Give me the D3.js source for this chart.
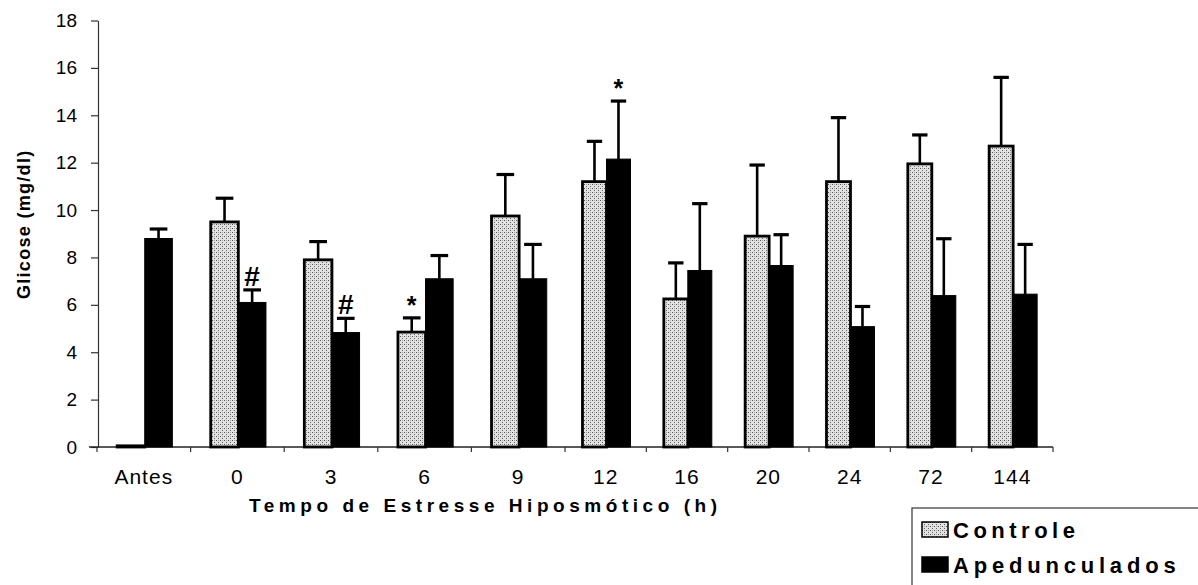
<!doctype html>
<html>
  <head>
    <script src="https://d3js.org/d3.v7.min.js" charset="utf-8"></script>
    <style>
      body { margin: 0; background: #fff; }
      text { font-family: "Liberation Sans", Arial, sans-serif; fill: #000; }
    </style>
  </head>
  <body>
    <script>

// data
var categories = ["Antes", "0", "3", "6", "9", "12", "16", "20", "24", "72", "144"];
var controle = [0.05, 9.5, 7.9, 4.85, 9.75, 11.2, 6.25, 8.9, 11.2, 11.95, 12.7];
var controleErr = [0, 1.0, 0.77, 0.6, 1.75, 1.7, 1.52, 3.0, 2.7, 1.22, 2.9];
var apedunc = [8.8, 6.1, 4.83, 7.1, 7.1, 12.15, 7.45, 7.66, 5.08, 6.39, 6.45];
var apeduncErr = [0.4, 0.53, 0.6, 0.98, 1.45, 2.45, 2.82, 1.3, 0.85, 2.4, 2.1];
var controleMarks = ["", "", "", "*", "", "", "", "", "", "", ""];
var apeduncMarks = ["", "#", "#", "", "", "*", "", "", "", "", ""];
var yTicks = [0, 2, 4, 6, 8, 10, 12, 14, 16, 18];
var seriesNames = ["Controle", "Apedunculados"];

var svg = d3.select("body")
  .append("svg")
    .attr("width", 1198)
    .attr("height", 585);

// stipple fill used for the Controle bars
var pat = svg.append("defs").append("pattern")
  .attr("id", "dots")
  .attr("patternUnits", "userSpaceOnUse")
  .attr("width", 4).attr("height", 4);
pat.append("rect").attr("width", 4).attr("height", 4).attr("fill", "#e2e2e2");
pat.append("rect").attr("x", 0).attr("y", 0).attr("width", 1).attr("height", 1).attr("fill", "#555");
pat.append("rect").attr("x", 2).attr("y", 2).attr("width", 1).attr("height", 1).attr("fill", "#666");
pat.append("rect").attr("x", 2).attr("y", 0).attr("width", 1).attr("height", 1).attr("fill", "#aaa");

// category boundaries (the scanned figure is wider on the left half)
var xb = d3.scaleLinear().domain([0, 5, 11]).range([97, 565, 1053]);
var y = d3.scaleLinear().domain([0, 18]).range([447, 20.5]);

function bandW(i) { return xb(i + 1) - xb(i); }
function barX(i, s) { return xb(i) + bandW(i) * (0.215 + 0.295 * s); }
function barW(i) { return bandW(i) * 0.295; }

// y axis
var yAxis = svg.append("g")
  .attr("transform", "translate(98,0)")
  .call(d3.axisLeft(y).tickValues(yTicks).tickSize(7).tickSizeOuter(0).tickPadding(14));
yAxis.select(".domain").attr("stroke", "#333").attr("stroke-width", 1.2);
yAxis.selectAll(".tick line").attr("stroke", "#333").attr("stroke-width", 1.2);
yAxis.selectAll(".tick text")
  .attr("font-size", 19)
  .attr("font-family", "Liberation Sans, Arial, sans-serif")
  .attr("fill", "#000");

svg.append("text")
  .attr("transform", "translate(30," + y(9.4) + ") rotate(-90)")
  .attr("text-anchor", "middle")
  .attr("font-size", 18)
  .attr("font-weight", "bold")
  .attr("letter-spacing", 1.3)
  .text("Glicose (mg/dl)");

// x axis
svg.append("line")
  .attr("x1", 89).attr("x2", xb(11))
  .attr("y1", y(0)).attr("y2", y(0))
  .attr("stroke", "#222").attr("stroke-width", 1.5);
svg.selectAll(".xtick")
  .data(d3.range(categories.length + 1))
  .enter().append("line")
    .attr("class", "xtick")
    .attr("x1", function(d) { return xb(d); })
    .attr("x2", function(d) { return xb(d); })
    .attr("y1", y(0)).attr("y2", y(0) + 5)
    .attr("stroke", "#333").attr("stroke-width", 1.2);

svg.selectAll(".xlab")
  .data(categories)
  .enter().append("text")
    .attr("class", "xlab")
    .attr("x", function(d, i) { return xb(i) + bandW(i) / 2; })
    .attr("y", 484)
    .attr("text-anchor", "middle")
    .attr("font-size", 21)
    .attr("letter-spacing", 1)
    .text(function(d) { return d; });

svg.append("text")
  .attr("x", 483).attr("y", 512)
  .attr("text-anchor", "middle")
  .attr("font-size", 19)
  .attr("font-weight", "bold")
  .attr("textLength", 468)
  .attr("lengthAdjust", "spacing")
  .text("Tempo de Estresse Hiposmótico (h)");

// bars, error bars and marks for both series
var series = [
  { vals: controle, err: controleErr, marks: controleMarks, fill: "url(#dots)", s: 0 },
  { vals: apedunc, err: apeduncErr, marks: apeduncMarks, fill: "#000", s: 1 }
];

series.forEach(function(ser) {
  var g = svg.append("g");
  var withErr = d3.range(ser.vals.length).filter(function(i) { return ser.err[i] > 0; });
  var withMark = d3.range(ser.vals.length).filter(function(i) { return ser.marks[i] !== ""; });
  var cx = function(i) { return barX(i, ser.s) + barW(i) / 2; };
  var top = function(i) { return y(ser.vals[i] + ser.err[i]); };

  // error bars (drawn first so the bar outline sits over the stem)
  g.selectAll(".stem")
    .data(withErr)
    .enter().append("line")
      .attr("class", "stem")
      .attr("x1", cx).attr("x2", cx)
      .attr("y1", function(i) { return y(ser.vals[i]); })
      .attr("y2", top)
      .attr("stroke", "#000").attr("stroke-width", 2.6);

  g.selectAll(".cap")
    .data(withErr)
    .enter().append("line")
      .attr("class", "cap")
      .attr("x1", function(i) { return barX(i, ser.s) + barW(i) * 0.18; })
      .attr("x2", function(i) { return barX(i, ser.s) + barW(i) * 0.82; })
      .attr("y1", top).attr("y2", top)
      .attr("stroke", "#000").attr("stroke-width", 3.2);

  g.selectAll(".bar")
    .data(ser.vals)
    .enter().append("rect")
      .attr("class", "bar")
      .attr("x", function(d, i) { return barX(i, ser.s); })
      .attr("width", function(d, i) { return barW(i); })
      .attr("y", function(d) { return y(d); })
      .attr("height", function(d) { return y(0) - y(d); })
      .attr("fill", ser.fill)
      .attr("stroke", "#000")
      .attr("stroke-width", ser.s === 0 ? 2.8 : 1);

  g.selectAll(".mark")
    .data(withMark)
    .enter().append("text")
      .attr("class", "mark")
      .attr("x", cx)
      .attr("y", function(i) { return top(i) - 4; })
      .attr("text-anchor", "middle")
      .attr("font-size", function(i) { return ser.marks[i] === "#" ? 28 : 25; })
      .attr("font-weight", "bold")
      .text(function(i) { return ser.marks[i]; });
});

// legend, partly cut off by the right and bottom edge as in the scan
var leg = svg.append("g");
leg.append("rect")
  .attr("x", 912).attr("y", 508)
  .attr("width", 320).attr("height", 100)
  .attr("fill", "#fff").attr("stroke", "#333").attr("stroke-width", 1.2);

var legItems = leg.selectAll(".item")
  .data(seriesNames)
  .enter().append("g")
    .attr("transform", function(d, i) { return "translate(922," + (522 + i * 35) + ")"; });
legItems.append("rect")
  .attr("width", 26).attr("height", 15)
  .attr("fill", function(d, i) { return series[i].fill; })
  .attr("stroke", "#000").attr("stroke-width", 1.5);
legItems.append("text")
  .attr("x", 31).attr("y", 16)
  .attr("font-size", 22)
  .attr("font-weight", "bold")
  .attr("letter-spacing", function(d, i) { return i === 0 ? 4.5 : 4.8; })
  .text(function(d) { return d; });

    </script>
  </body>
</html>
